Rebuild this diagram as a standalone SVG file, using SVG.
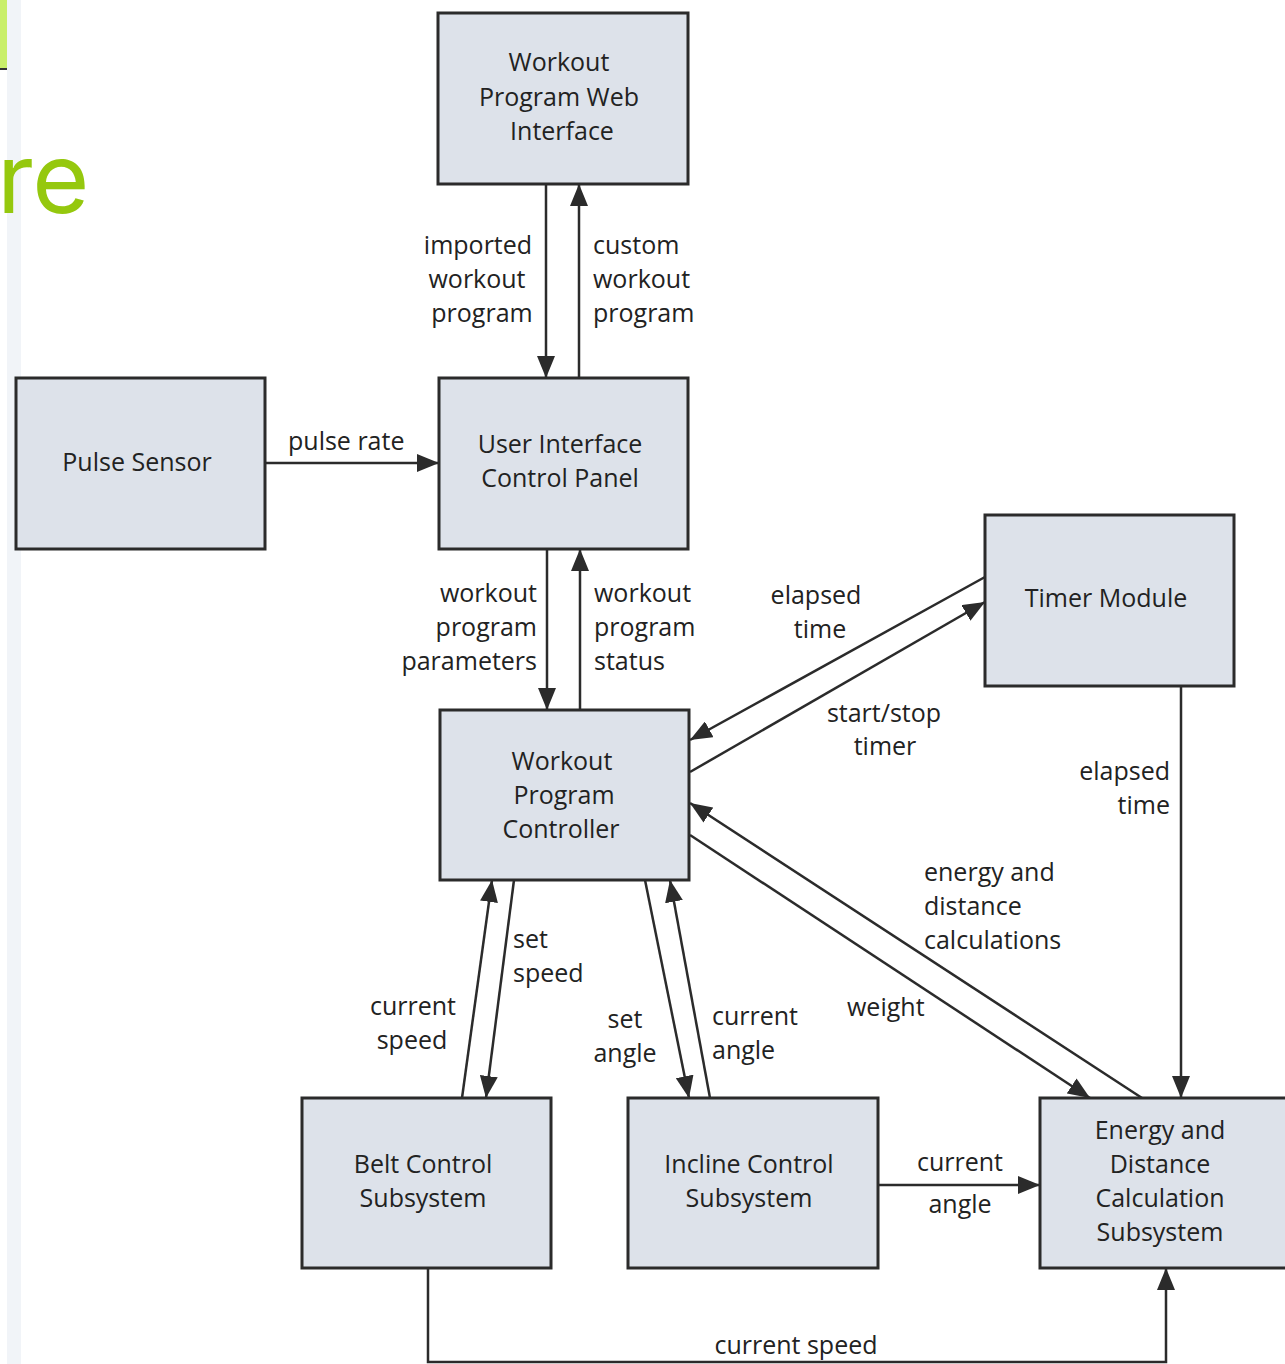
<svg xmlns="http://www.w3.org/2000/svg" width="1285" height="1364" viewBox="0 0 1285 1364">
<defs>
<style>
.box{fill:#dde2ea;stroke:#2b2b2b;stroke-width:3}
.t{font-family:"Open Sans","Noto Sans",sans-serif;font-size:25px;fill:#222}
.m{text-anchor:middle}
.e{text-anchor:end}
.c{fill:none;stroke:#2b2b2b;stroke-width:2.5}
</style>
<marker id="ah" markerUnits="userSpaceOnUse" markerWidth="24" markerHeight="18" refX="22" refY="9" orient="auto">
<path d="M0,0 L22,9 L0,18 Z" fill="#2b2b2b"/>
</marker>
</defs>
<rect width="1285" height="1364" fill="#ffffff"/>
<rect x="7" y="0" width="14" height="1364" fill="#f1f4f8"/>
<rect x="0" y="0" width="7" height="68" fill="#c9ef6a"/>
<line x1="0" y1="69" x2="7" y2="69" stroke="#333" stroke-width="2"/>
<text x="-3" y="213" font-family="Inter,'Open Sans',sans-serif" font-size="98" fill="#95c80e">re</text>

<g id="connectors">
<line class="c" x1="546" y1="184" x2="546" y2="378" marker-end="url(#ah)"/>
<line class="c" x1="579" y1="378" x2="579" y2="184" marker-end="url(#ah)"/>
<line class="c" x1="265" y1="463" x2="439" y2="463" marker-end="url(#ah)"/>
<line class="c" x1="547" y1="549" x2="547" y2="710" marker-end="url(#ah)"/>
<line class="c" x1="580" y1="710" x2="580" y2="549" marker-end="url(#ah)"/>
<line class="c" x1="985" y1="577" x2="690" y2="740" marker-end="url(#ah)"/>
<line class="c" x1="690" y1="772" x2="985" y2="602" marker-end="url(#ah)"/>
<line class="c" x1="1181" y1="686" x2="1181" y2="1098" marker-end="url(#ah)"/>
<line class="c" x1="1142" y1="1098" x2="690" y2="803" marker-end="url(#ah)"/>
<line class="c" x1="690" y1="835" x2="1090" y2="1098" marker-end="url(#ah)"/>
<line class="c" x1="462" y1="1098" x2="492" y2="880" marker-end="url(#ah)"/>
<line class="c" x1="514" y1="880" x2="486" y2="1098" marker-end="url(#ah)"/>
<line class="c" x1="645" y1="880" x2="689" y2="1098" marker-end="url(#ah)"/>
<line class="c" x1="710" y1="1098" x2="670" y2="880" marker-end="url(#ah)"/>
<line class="c" x1="878" y1="1185" x2="1040" y2="1185" marker-end="url(#ah)"/>
<polyline class="c" points="428,1268 428,1362 1166,1362 1166,1268" marker-end="url(#ah)"/>
</g>

<g id="labels" class="t">
<text class="t m" x="478" y="254">imported</text>
<text class="t m" x="477" y="288">workout</text>
<text class="t m" x="482" y="322">program</text>
<text class="t" x="593" y="254">custom</text>
<text class="t" x="593" y="288">workout</text>
<text class="t" x="593" y="322">program</text>
<text class="t" x="288" y="450">pulse rate</text>
<text class="t e" x="537" y="602">workout</text>
<text class="t e" x="537" y="636">program</text>
<text class="t e" x="537" y="670">parameters</text>
<text class="t" x="594" y="602">workout</text>
<text class="t" x="594" y="636">program</text>
<text class="t" x="594" y="670">status</text>
<text class="t m" x="816" y="604">elapsed</text>
<text class="t m" x="820" y="638">time</text>
<text class="t m" x="884" y="722">start/stop</text>
<text class="t m" x="885" y="755">timer</text>
<text class="t e" x="1170" y="780">elapsed</text>
<text class="t e" x="1170" y="814">time</text>
<text class="t" x="924" y="881">energy and</text>
<text class="t" x="924" y="915">distance</text>
<text class="t" x="924" y="949">calculations</text>
<text class="t" x="847" y="1016">weight</text>
<text class="t" x="513" y="948">set</text>
<text class="t" x="513" y="982">speed</text>
<text class="t m" x="413" y="1015">current</text>
<text class="t m" x="412" y="1049">speed</text>
<text class="t m" x="625" y="1028">set</text>
<text class="t m" x="625" y="1062">angle</text>
<text class="t" x="712" y="1025">current</text>
<text class="t" x="712" y="1059">angle</text>
<text class="t m" x="960" y="1171">current</text>
<text class="t m" x="960" y="1213">angle</text>
<text class="t m" x="796" y="1354">current speed</text>
</g>

<g id="web">
<rect class="box" x="438" y="13" width="250" height="171"/>
<text class="t m" x="559" y="71">Workout</text>
<text class="t m" x="559" y="106">Program Web</text>
<text class="t m" x="562" y="140">Interface</text>
</g>
<g id="pulse">
<rect class="box" x="16" y="378" width="249" height="171"/>
<text class="t m" x="137" y="471">Pulse Sensor</text>
</g>
<g id="ui">
<rect class="box" x="439" y="378" width="249" height="171"/>
<text class="t m" x="560" y="453">User Interface</text>
<text class="t m" x="560" y="487">Control Panel</text>
</g>
<g id="timer">
<rect class="box" x="985" y="515" width="249" height="171"/>
<text class="t m" x="1106" y="607">Timer Module</text>
</g>
<g id="controller">
<rect class="box" x="440" y="710" width="249" height="170"/>
<text class="t m" x="562" y="770">Workout</text>
<text class="t m" x="564" y="804">Program</text>
<text class="t m" x="561" y="838">Controller</text>
</g>
<g id="belt">
<rect class="box" x="302" y="1098" width="249" height="170"/>
<text class="t m" x="423" y="1173">Belt Control</text>
<text class="t m" x="423" y="1207">Subsystem</text>
</g>
<g id="incline">
<rect class="box" x="628" y="1098" width="250" height="170"/>
<text class="t m" x="749" y="1173">Incline Control</text>
<text class="t m" x="749" y="1207">Subsystem</text>
</g>
<g id="energy">
<rect class="box" x="1040" y="1098" width="260" height="170"/>
<text class="t m" x="1160" y="1139">Energy and</text>
<text class="t m" x="1160" y="1173">Distance</text>
<text class="t m" x="1160" y="1207">Calculation</text>
<text class="t m" x="1160" y="1241">Subsystem</text>
</g>
</svg>
